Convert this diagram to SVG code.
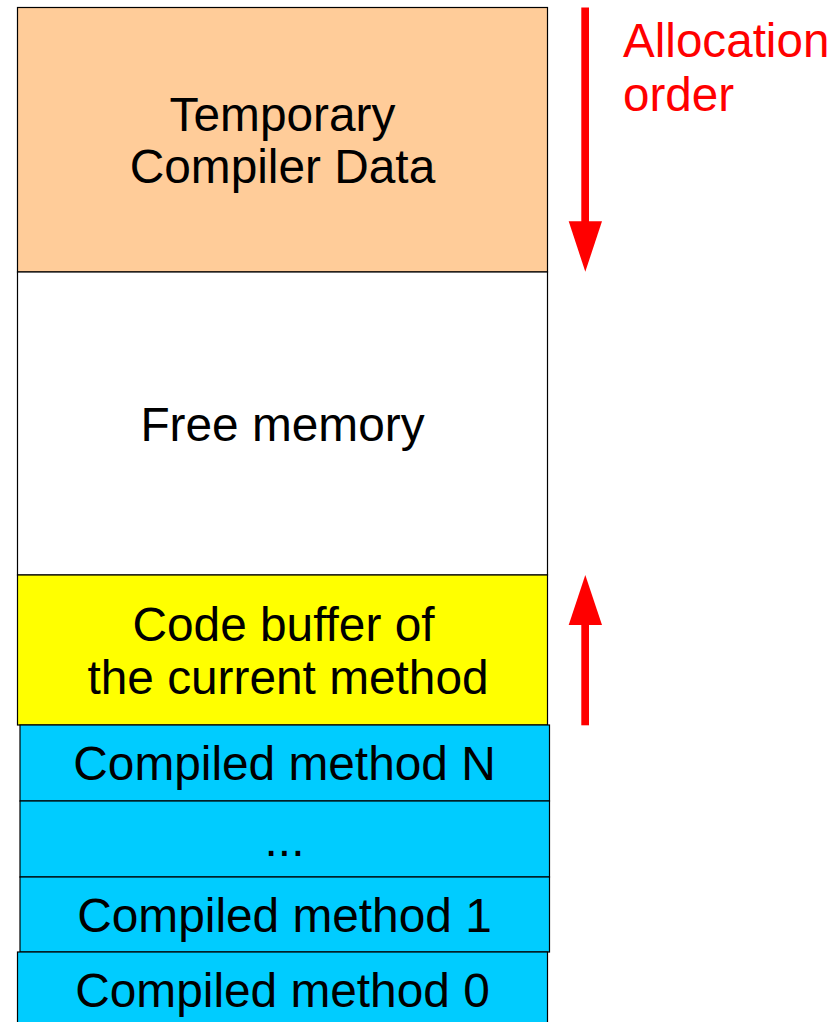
<svg xmlns="http://www.w3.org/2000/svg" width="840" height="1022" viewBox="0 0 840 1022">
  <style>
    .box { stroke: #000000; stroke-width: 1.2; }
    .label { font-family: "Liberation Sans", Arial, sans-serif; font-size: 47.8px; fill: #000000; text-anchor: middle; }
    .note { font-family: "Liberation Sans", Arial, sans-serif; font-size: 47.6px; fill: #ff0000; }
    .arrow { fill: #ff0000; stroke: none; }
  </style>
  <rect width="840" height="1022" fill="#ffffff"/>

  <!-- memory regions, top to bottom -->
  <g id="temp-data">
    <rect class="box" x="17.5" y="7.5" width="530" height="264.5" fill="#ffcc99"/>
    <text class="label" x="282.5" y="130.5">Temporary</text>
    <text class="label" x="282.5" y="182.5">Compiler Data</text>
  </g>
  <g id="free-memory">
    <rect class="box" x="17.5" y="272" width="530" height="303" fill="#ffffff"/>
    <text class="label" x="282.5" y="440.5">Free memory</text>
  </g>
  <g id="code-buffer">
    <rect class="box" x="17.5" y="575" width="530" height="150" fill="#ffff00"/>
    <text class="label" x="283.5" y="641">Code buffer of</text>
    <text class="label" x="288" y="693.5">the current method</text>
  </g>
  <g id="compiled-n">
    <rect class="box" x="20" y="725" width="529.5" height="76" fill="#00ccff"/>
    <text class="label" x="284.5" y="780">Compiled method N</text>
  </g>
  <g id="compiled-more">
    <rect class="box" x="20" y="801" width="529.5" height="76" fill="#00ccff"/>
    <text class="label" x="284.5" y="856">...</text>
  </g>
  <g id="compiled-1">
    <rect class="box" x="20" y="877" width="529.5" height="75" fill="#00ccff"/>
    <text class="label" x="284.5" y="931.5">Compiled method 1</text>
  </g>
  <g id="compiled-0">
    <rect class="box" x="17.5" y="952" width="530" height="80" fill="#00ccff"/>
    <text class="label" x="282.5" y="1006.5">Compiled method 0</text>
  </g>

  <!-- allocation direction arrows -->
  <g id="connectors">
    <rect class="arrow" x="581.3" y="7.5" width="7.7" height="215"/>
    <polygon class="arrow" points="568.7,221.3 602,221.3 585.3,271.7"/>
    <polygon class="arrow" points="585.3,575 568.7,625 602,625"/>
    <rect class="arrow" x="581.3" y="624" width="7.7" height="101.3"/>
  </g>

  <g id="allocation-note">
    <text class="note" x="623" y="57">Allocation</text>
    <text class="note" x="623" y="111">order</text>
  </g>
</svg>
